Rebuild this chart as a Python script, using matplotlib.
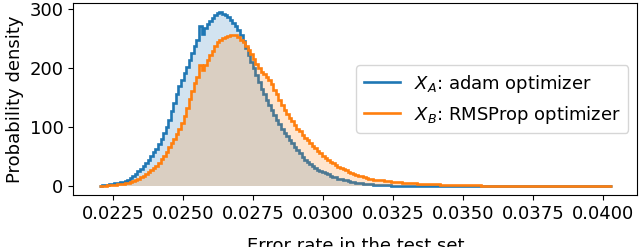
#!/usr/bin/env python3

import numpy as np
import matplotlib
matplotlib.use("Agg")
import matplotlib.pyplot as plt

# histogram bins shared by both runs
BIN_START = 0.02199
BIN_END = 0.04030
N_BINS = 200

# probability density per bin
adam_density = [
    1, 1.5, 2, 2.5, 3.5, 4.5, 5, 6, 7, 8,
    9, 11, 14, 17, 21, 26, 30, 35, 40, 45,
    52, 58, 64, 71, 80, 90, 100, 113, 127, 141,
    156, 170, 181, 192, 203, 215, 227, 238, 248, 272,
    258, 268, 275, 281, 286, 290, 294, 295, 293, 291,
    287, 282, 277, 272, 266, 256, 246, 234, 222, 211,
    200, 188, 177, 165, 156, 147, 138, 130, 121, 113,
    105, 98, 91, 85, 79, 73, 67, 61, 56, 50,
    45, 41, 37, 34, 31, 28, 26, 24, 22, 20,
    18, 16, 15, 13, 12, 11, 10, 9, 8, 7,
    6, 5.5, 5, 4.5, 4, 3.5, 3.2, 2.9, 2.6, 2.3,
    2.0, 1.8, 1.6, 1.5, 1.3, 1.2, 1.1, 1.0, 0.9, 0.8,
    0.8, 0.7, 0.7, 0.6, 0.6, 0.5, 0.5, 0.5, 0.4, 0.4,
    0.4, 0.38, 0.36, 0.34, 0.32, 0.3, 0.29, 0.28, 0.27, 0.26,
    0.25, 0.24, 0.23, 0.22, 0.21, 0.2, 0.19, 0.18, 0.17, 0.16,
    0.15, 0.15, 0.14, 0.14, 0.13, 0.13, 0.12, 0.12, 0.11, 0.11,
    0.1, 0.1, 0.1, 0.1, 0.1, 0.1, 0.1, 0.1, 0.1, 0.1,
    0.09, 0.09, 0.09, 0.09, 0.09, 0.09, 0.09, 0.09, 0.09, 0.09,
    0.08, 0.08, 0.08, 0.08, 0.08, 0.08, 0.08, 0.08, 0.08, 0.08,
    0.07, 0.07, 0.07, 0.07, 0.07, 0.07, 0.07, 0.07, 0.07, 0.07,
]

rmsprop_density = [
    0.5, 0.8, 1.2, 1.5, 2, 2.4, 2.8, 3.3, 3.9, 4.6,
    5.3, 6, 7.5, 9, 11, 13, 15, 18, 21, 24,
    27, 31, 35, 40, 46, 52, 59, 66, 73, 80,
    89, 98, 108, 120, 132, 148, 162, 175, 186, 205,
    197, 206, 214, 222, 230, 238, 244, 248, 251, 253,
    255, 257, 257, 256, 253, 249, 244, 238, 231, 224,
    216, 208, 200, 194, 190, 186, 181, 173, 164, 156,
    146, 138, 130, 123, 116, 110, 104, 98, 93, 87,
    82, 78, 73, 69, 65, 60, 56, 52, 48, 45,
    42, 39, 36, 33, 31, 29, 27, 25, 23, 21,
    19, 18, 17, 15, 14, 13, 12, 11.5, 11, 10.5,
    10, 9.5, 9, 8.5, 8, 7.6, 7.2, 6.8, 6.4, 6.0,
    5.7, 5.4, 5.1, 4.8, 4.5, 4.3, 4.1, 3.9, 3.7, 3.5,
    3.4, 3.3, 3.1, 3.0, 2.8, 2.7, 2.6, 2.4, 2.3, 2.2,
    2.1, 2.0, 1.9, 1.8, 1.7, 1.6, 1.5, 1.4, 1.35, 1.3,
    1.2, 1.15, 1.1, 1.0, 0.95, 0.9, 0.85, 0.8, 0.75, 0.7,
    0.68, 0.65, 0.62, 0.6, 0.57, 0.55, 0.52, 0.5, 0.48, 0.46,
    0.44, 0.42, 0.4, 0.38, 0.37, 0.35, 0.34, 0.33, 0.32, 0.31,
    0.3, 0.29, 0.28, 0.27, 0.26, 0.25, 0.24, 0.23, 0.22, 0.21,
    0.2, 0.19, 0.18, 0.17, 0.16, 0.15, 0.14, 0.13, 0.12, 0.1,
]

labels = [r"$X_A$: adam optimizer", r"$X_B$: RMSProp optimizer"]

plt.rcParams["font.size"] = 13

edges = np.linspace(BIN_START, BIN_END, N_BINS + 1)

fig, ax = plt.subplots(figsize=(6.4, 2.47), dpi=100)
fig.subplots_adjust(left=0.1145, right=0.9958, top=0.9866, bottom=0.2105)

for i, (vals, label) in enumerate(zip([adam_density, rmsprop_density], labels)):
    color = f"C{i}"
    ax.stairs(vals, edges, fill=True, color=color, alpha=0.2, lw=0)
    ax.stairs(vals, edges, color=color, lw=1.9, label=label)

ax.set_xlim(0.021071, 0.041214)
ax.set_ylim(-14.8, 310.5)
ax.set_xticks([0.0225, 0.0250, 0.0275, 0.0300, 0.0325, 0.0350, 0.0375, 0.0400])
ax.set_yticks([0, 100, 200, 300])
ax.set_xlabel("Error rate in the test set", labelpad=10)
ax.set_ylabel("Probability density")
ax.legend(loc="center right")

fig.savefig("out.png")
